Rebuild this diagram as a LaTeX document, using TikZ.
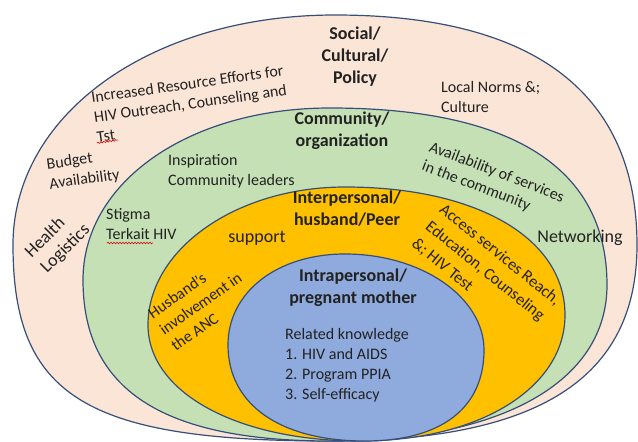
\documentclass[tikz,border=0pt]{standalone}
\usepackage{fontspec}
\setmainfont{Carlito}
\usetikzlibrary{decorations.pathmorphing}
\definecolor{pinkf}{HTML}{FBE5D6}
\definecolor{greenf}{HTML}{C5E0B4}
\definecolor{orangef}{HTML}{FFC000}
\definecolor{bluef}{HTML}{8FAADC}
\definecolor{edgec}{HTML}{364F7A}
\definecolor{txt}{HTML}{222222}
\begin{document}
\begin{tikzpicture}[x=1pt, y=-1pt,
  layer/.style={draw=edgec, line width=1.2pt},
  lbl/.style={inner sep=0pt, text=txt, font=\fontsize{16}{20}\selectfont, align=left},
  lblb/.style={inner sep=0pt, text=txt, font=\fontsize{18}{22}\selectfont\bfseries, align=center},
  big/.style={inner sep=0pt, text=txt, font=\fontsize{18}{22}\selectfont, align=left},
  squig/.style={draw=red!85!black, line width=0.6pt, decorate,
    decoration={snake, amplitude=0.7pt, segment length=3pt}}]
\fill[white] (0,0) rectangle (638,442);
\useasboundingbox (0,0) rectangle (638,442);
% outer: social / cultural / policy
\path[layer, fill=pinkf] (13,245)
  .. controls (13,113.9) and (151.5,15) .. (335,15)
  .. controls (534.3,15) and (637,93.2) .. (637,245)
  .. controls (637,378.3) and (538.8,441) .. (330,441)
  .. controls (85.9,441) and (13,395.9) .. (13,245) -- cycle;
% community
\path[layer, fill=greenf] (83,280)
  .. controls (83,182) and (189.2,108) .. (330,108)
  .. controls (512.8,108) and (607,168.2) .. (607,285)
  .. controls (607,381.7) and (501.7,441) .. (330,441)
  .. controls (162,441) and (83,389.5) .. (83,280) -- cycle;
% interpersonal
\path[layer, fill=orangef] (148,325)
  .. controls (148,249.1) and (236.6,187) .. (345,187)
  .. controls (477,187) and (565,238.2) .. (565,315)
  .. controls (565,388.1) and (478.9,441) .. (360,441)
  .. controls (237,441) and (148,392.3) .. (148,325) -- cycle;
% intrapersonal
\path[layer, fill=bluef] (228,345)
  .. controls (228,292.2) and (277.1,254) .. (345,254)
  .. controls (421.5,254) and (484,297.2) .. (484,350)
  .. controls (484,408.2) and (441.2,441) .. (365,441)
  .. controls (280.1,441) and (228,404.5) .. (228,345) -- cycle;

\node[lblb] (social) at (355,57) {Social/\\Cultural/\\Policy};
\node[lbl, anchor=west] (norms) at (441,97) {Local Norms \&;\\Culture};
\node[lbl, anchor=west, rotate=8] (resource) at (94,117) {Increased Resource Efforts for\\HIV Outreach, Counseling and\\Tst};
\node[lbl, anchor=west, rotate=8] (budget) at (48,175) {Budget\\Availability};
\node[big, anchor=west, rotate=45] (health) at (36,263) {Health\\Logistics};
\node[lblb] (community) at (342,131) {Community/\\organization};
\node[lbl, anchor=west] (inspiration) at (168,171) {Inspiration\\Community leaders};
\node[lbl, rotate=-21] (avail) at (493,182) {Availability of services\\in the community};
\node[big] (network) at (580,238) {Networking};
\node[lbl, anchor=west] (stigma) at (106,224) {Stigma\\Terkait HIV};
\node[lblb] (inter) at (347,209) {Interpersonal/\\husband/Peer};
\node[big] (support) at (257,238) {support};
\node[lbl, anchor=west, rotate=35] (husband) at (161,331) {Husband's\\involvement in\\the ANC};
\node[lbl, rotate=-39, font=\fontsize{16.5}{22}\selectfont] (access) at (486,272) {Access services Reach,\\Education, Counseling\\\&; HIV Test};
\node[lblb] (intra) at (353,288) {Intrapersonal/\\pregnant mother};
\node[lbl, anchor=west] (knowledge) at (285,365) {Related knowledge\\1. HIV and AIDS\\2. Program PPIA\\3. Self-efficacy};

\draw[squig] (97,143) -- (118,140);
\draw[squig] (107,243) -- (153,243);
\end{tikzpicture}
\end{document}
